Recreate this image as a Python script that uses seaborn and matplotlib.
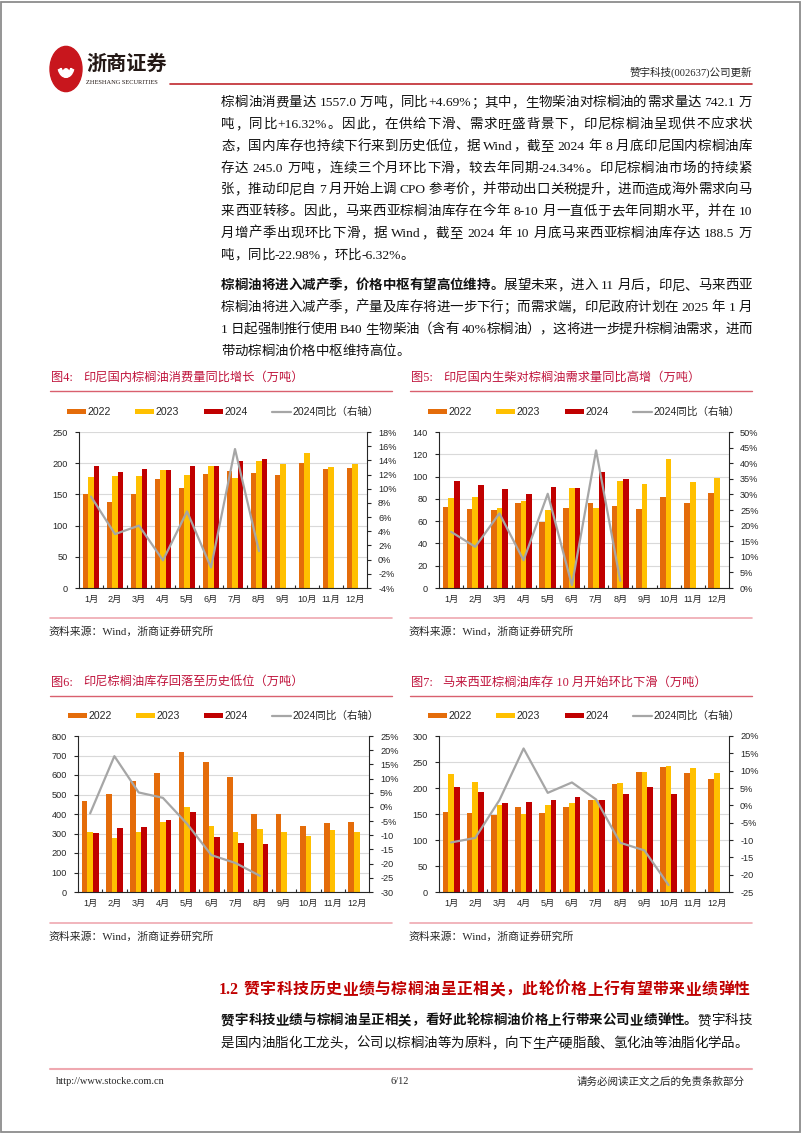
import re
import numpy as np
import pandas as pd
import matplotlib
matplotlib.use('Agg')
import matplotlib.pyplot as plt
from matplotlib.patches import Patch, Circle, Rectangle, Wedge
from matplotlib.lines import Line2D
import seaborn as sns

# ---- data ----
months = ['1月', '2月', '3月', '4月', '5月', '6月', '7月', '8月', '9月', '10月', '11月', '12月']
years = ['2022', '2023', '2024']

# 图4 印尼国内棕榈油消费量（万吨）
cons_2022 = [150, 138, 150, 175, 161, 183, 188, 184, 181, 200, 190, 193]
cons_2023 = [178, 180, 180, 189, 181, 196, 176, 203, 198, 217, 194, 199]
cons_2024 = [195, 186, 190, 189, 195, 195, 203, 206]
cons_yoy = [8.9, 3.6, 4.8, -0.1, 6.8, -1.1, 15.6, 1.2]

# 图5 印尼生柴对棕榈油需求量（万吨）
bio_2022 = [73, 71, 70, 76, 59, 72, 76, 74, 71, 82, 76, 85]
bio_2023 = [81, 82, 72, 78, 70, 90, 72, 96, 93, 116, 95, 99]
bio_2024 = [96, 92, 89, 84, 91, 90, 104, 98]
bio_yoy = [18.0, 13.2, 23.9, 8.9, 30.2, 0.9, 44.1, 2.3]

# 图6 印尼棕榈油库存（万吨）
idn_2022 = [468, 505, 568, 608, 719, 669, 591, 402, 402, 337, 353, 358]
idn_2023 = [306, 276, 310, 360, 438, 339, 310, 323, 306, 286, 318, 310]
idn_2024 = [301, 327, 332, 370, 408, 283, 250, 245]
idn_yoy = [-2.3, 17.9, 5.1, 3.2, -6.0, -17.0, -19.8, -24.3]

# 图7 马来西亚棕榈油库存（万吨）
mys_2022 = [154, 151, 148, 164, 151, 164, 177, 208, 231, 241, 228, 218]
mys_2023 = [226, 211, 168, 150, 168, 171, 176, 209, 231, 243, 239, 228]
mys_2024 = [202, 192, 172, 174, 176, 183, 176, 188, 201, 188.5]
mys_yoy = [-10.7, -9.4, 1.5, 16.4, 3.6, 6.6, 1.7, -10.8, -13.0, -23.0]

right_labels_4 = ['-4%', '-2%', '0%', '2%', '4%', '6%', '8%', '10%', '12%', '14%', '16%', '18%']
right_labels_5 = ['0%', '5%', '10%', '15%', '20%', '25%', '30%', '35%', '40%', '45%', '50%']
right_labels_6 = ['-30', '-25', '-20', '-15', '-10', '-5%', '0%', '5%', '10%', '15%', '20%', '25%']
right_labels_7 = ['-25', '-20', '-15', '-10', '-5%', '0%', '5%', '10%', '15%', '20%']

titles = ['印尼国内棕榈油消费量同比增长（万吨）', '印尼国内生柴对棕榈油需求量同比高增（万吨）',
          '印尼棕榈油库存回落至历史低位（万吨）', '马来西亚棕榈油库存 10 月开始环比下滑（万吨）']
fig_nums = ['图4:', '图5:', '图6:', '图7:']
source = '资料来源：Wind，浙商证券研究所'
legend_labels = ['2022', '2023', '2024', '2024同比（右轴）']

para1 = [
    '棕榈油消费量达 1557.0 万吨，同比+4.69%；其中，生物柴油对棕榈油的需求量达 742.1 万',
    '吨，同比+16.32%。因此，在供给下滑、需求旺盛背景下，印尼棕榈油呈现供不应求状',
    '态，国内库存也持续下行来到历史低位，据 Wind，截至 2024 年 8 月底印尼国内棕榈油库',
    '存达 245.0 万吨，连续三个月环比下滑，较去年同期-24.34%。印尼棕榈油市场的持续紧',
    '张，推动印尼自 7 月开始上调 CPO 参考价，并带动出口关税提升，进而造成海外需求向马',
    '来西亚转移。因此，马来西亚棕榈油库存在今年 8-10 月一直低于去年同期水平，并在 10',
    '月增产季出现环比下滑，据 Wind，截至 2024 年 10 月底马来西亚棕榈油库存达 188.5 万',
    '吨，同比-22.98%，环比-6.32%。',
]
para2_bold = '棕榈油将进入减产季，价格中枢有望高位维持。'
para2 = [
    '展望未来，进入 11 月后，印尼、马来西亚',
    '棕榈油将进入减产季，产量及库存将进一步下行；而需求端，印尼政府计划在 2025 年 1 月',
    '1 日起强制推行使用 B40 生物柴油（含有 40%棕榈油），这将进一步提升棕榈油需求，进而',
    '带动棕榈油价格中枢维持高位。',
]
heading = '1.2 赞宇科技历史业绩与棕榈油呈正相关，此轮价格上行有望带来业绩弹性'
para3_bold = '赞宇科技业绩与棕榈油呈正相关，看好此轮棕榈油价格上行带来公司业绩弹性。'
para3 = ['赞宇科技', '是国内油脂化工龙头，公司以棕榈油等为原料，向下生产硬脂酸、氢化油等油脂化学品。']

# ---- style ----
sns.set_theme(style='white')
SANS = ['Liberation Sans', 'Noto Sans CJK SC']
SERIF = ['Liberation Serif', 'Noto Sans CJK SC']
plt.rcParams['font.family'] = SANS
plt.rcParams['axes.unicode_minus'] = False

palette = {'2022': '#E46C0A', '2023': '#FFC000', '2024': '#C00000'}
line_color = '#A6A6A6'
title_red = '#C0143C'

W, H = 802, 1133
fig = plt.figure(figsize=(W / 100, H / 100), dpi=100)
fig.patch.set_facecolor('white')
fig.canvas.draw()
renderer = fig.canvas.get_renderer()


def fy(y):
    return 1 - y / H


def txt(x, y, s, **kw):
    kw.setdefault('va', 'center')
    return fig.text(x / W, fy(y), s, **kw)


def hline(x0, x1, y, color, lw):
    fig.add_artist(Line2D([x0 / W, x1 / W], [fy(y), fy(y)], transform=fig.transFigure,
                          color=color, lw=lw))


def text_line(x0, x1, y, segs, size, color='#111111', justify=True):
    # lay out a line token by token so that it fills x0..x1 like the justified page text
    toks = []
    for s, weight in segs:
        for tk in re.findall(r'[\x21-\x7e]+| |[^\x21-\x7e ]', s):
            toks.append((tk, weight))
    em = size * 100 / 72
    widths = []
    for tk, weight in toks:
        if tk == ' ':
            widths.append(0.25 * em)
        elif ord(tk[0]) > 127:
            widths.append(em)
        else:
            t = fig.text(0, 0, tk, fontsize=size, family=SERIF, weight=weight)
            widths.append(t.get_window_extent(renderer=renderer).width)
            t.remove()
    extra = (x1 - x0 - sum(widths)) / max(len(toks) - 1, 1) if justify else 0
    base = y + 0.38 * em
    x = x0
    for (tk, weight), wd in zip(toks, widths):
        if tk != ' ':
            txt(x, base, tk, fontsize=size, family=SERIF, weight=weight, color=color,
                va='baseline')
        x += wd + extra


def long_frame(v22, v23, v24):
    rows = []
    for yr, vals in zip(years, [v22, v23, v24]):
        for m, v in zip(months, vals):
            rows.append({'month': m, 'year': yr, 'value': v})
    return pd.DataFrame(rows)


def chart(box, v22, v23, v24, yoy, ymax, ystep, rmin, rmax, rstep, rlabels):
    x0, y0, x1, y1 = box
    ax = fig.add_axes([x0 / W, fy(y1), (x1 - x0) / W, (y1 - y0) / H])
    df = long_frame(v22, v23, v24)
    sns.barplot(data=df, x='month', y='value', hue='year', order=months, hue_order=years,
                palette=palette, width=0.7, saturation=1, errorbar=None, legend=False,
                linewidth=0, ax=ax)
    ax.set_xlim(-0.5, 11.5)
    ax.set_ylim(0, ymax)
    ax.set_yticks(np.arange(0, ymax + 1, ystep))
    ax.set_xlabel('')
    ax.set_ylabel('')
    ax.yaxis.grid(True, color='#D9D9D9', lw=0.8)
    ax.set_axisbelow(True)
    for s in ['left', 'bottom']:
        ax.spines[s].set_color('#262626')
        ax.spines[s].set_linewidth(0.8)
    ax.spines['top'].set_visible(False)
    ax.spines['right'].set_visible(False)
    ax.tick_params(axis='y', length=3, width=0.8, direction='out', labelsize=6.6,
                   pad=5, colors='#262626', left=True)
    ax.tick_params(axis='x', which='major', length=0, labelsize=6.6, pad=5, colors='#262626')
    ax.set_xticks(np.arange(0.5, 11.5, 1), minor=True)
    ax.tick_params(axis='x', which='minor', length=2.5, width=0.8, direction='in',
                   bottom=True, color='#262626')

    ax2 = ax.twinx()
    ldf = pd.DataFrame({'pos': np.arange(len(yoy)), 'yoy': yoy})
    sns.lineplot(data=ldf, x='pos', y='yoy', ax=ax2, color=line_color, lw=1.6)
    ax2.set_ylim(rmin, rmax)
    ax2.set_yticks(np.arange(rmin, rmax + 0.1, rstep))
    ax2.set_yticklabels(rlabels)
    ax2.set_ylabel('')
    ax2.set_xlabel('')
    ax2.grid(False)
    for s in ['left', 'top', 'bottom']:
        ax2.spines[s].set_visible(False)
    ax2.spines['right'].set_color('#262626')
    ax2.spines['right'].set_linewidth(0.8)
    ax2.tick_params(axis='y', length=3, width=0.8, direction='out', labelsize=6.6,
                    pad=5, colors='#262626', right=True)
    ax.set_xlim(-0.5, 11.5)

    handles = [Patch(facecolor=palette[y], edgecolor='none') for y in years]
    handles.append(Line2D([0], [0], color=line_color, lw=1.6))
    ax.legend(handles, legend_labels, ncol=4, loc='center',
              bbox_to_anchor=((x0 + x1) / 2 / W, fy(y0 - 20)), bbox_transform=fig.transFigure,
              frameon=False, fontsize=7.6, handlelength=1.8, handleheight=0.45,
              handletextpad=0.15, columnspacing=2.3, borderaxespad=0, borderpad=0)
    return ax


def panel(left, top, num, title):
    # title, rules and source around a chart
    right = left + 342
    txt(left + 1, top, num, color=title_red, fontsize=8.8, family=SERIF)
    txt(left + 33, top, title, color=title_red, fontsize=8.8, family=SERIF)
    hline(left, right, top + 13, '#D9606E', 1.0)
    hline(left, right, top + 240, '#EFA8B0', 1.2)
    txt(left - 2, top + 254, source, color='#262626', fontsize=7.8, family=SERIF)


# ---- page frame ----
fig.add_artist(Rectangle((0.6 / W, 0.6 / H), (W - 2.2) / W, (H - 2.2) / H, transform=fig.transFigure,
                         fill=False, edgecolor='#8C8C8C', lw=1.3))

# ---- header ----
fig.add_artist(Circle((66 / W, fy(69)), 16 / W, transform=fig.transFigure, color='#C8161D'))
fig.add_artist(Wedge((66 / W, fy(66)), 8 / W, 200, 340, width=3 / W, transform=fig.transFigure,
                     color='white'))
fig.add_artist(Circle((66 / W, fy(73)), 3 / W, transform=fig.transFigure, color='white'))
txt(86, 64, '浙商证券', fontsize=14.5, weight='bold', color='#231815', family=SANS)
txt(86, 82.5, 'ZHESHANG SECURITIES', fontsize=4.6, color='#231815', family=['Liberation Serif'])
hline(170, 752, 84, '#C0272D', 1.2)
txt(752, 72, '赞宇科技(002637)公司更新', fontsize=7.6, color='#262626', family=SERIF, ha='right')

# ---- body text ----
BODY = 9.7
X0, X1 = 221, 752
step = 21.8
ly = 101
for i, line in enumerate(para1):
    text_line(X0, X1, ly, [(line, 'normal')], BODY, justify=i < len(para1) - 1)
    ly += step
ly = 284
text_line(X0, X1, ly, [(para2_bold, 'bold'), (para2[0], 'normal')], BODY)
for i, line in enumerate(para2[1:]):
    ly += step
    text_line(X0, X1, ly, [(line, 'normal')], BODY, justify=i < len(para2) - 2)

# ---- charts ----
panel(50, 378, fig_nums[0], titles[0])
panel(410, 378, fig_nums[1], titles[1])
panel(50, 683, fig_nums[2], titles[2])
panel(410, 683, fig_nums[3], titles[3])

chart((79, 432, 367, 588), cons_2022, cons_2023, cons_2024, cons_yoy,
      250, 50, -4, 18, 2, right_labels_4)
chart((439, 432, 729, 588), bio_2022, bio_2023, bio_2024, bio_yoy,
      140, 20, 0, 50, 5, right_labels_5)
chart((78, 736, 369, 892), idn_2022, idn_2023, idn_2024, idn_yoy,
      800, 100, -30, 25, 5, right_labels_6)
chart((439, 736, 729, 892), mys_2022, mys_2023, mys_2024, mys_yoy,
      300, 50, -25, 20, 5, right_labels_7)

# ---- section 1.2 ----
text_line(219, 750, 988, [(heading, 'bold')], 11.4, color='#C00000')
text_line(X0, X1, 1019, [(para3_bold, 'bold'), (para3[0], 'normal')], BODY)
text_line(X0, 748, 1042, [(para3[1], 'normal')], BODY)

# ---- footer ----
hline(50, 752, 1069, '#EFA8B0', 1.5)
txt(56, 1082, 'http://www.stocke.com.cn', fontsize=7.5, family=SERIF, color='#262626')
txt(400, 1082, '6/12', fontsize=7.5, family=SERIF, color='#262626', ha='center')
txt(745, 1082, '请务必阅读正文之后的免责条款部分', fontsize=7.6, family=SERIF, color='#262626', ha='right')

fig.savefig('out.png', dpi=100)
